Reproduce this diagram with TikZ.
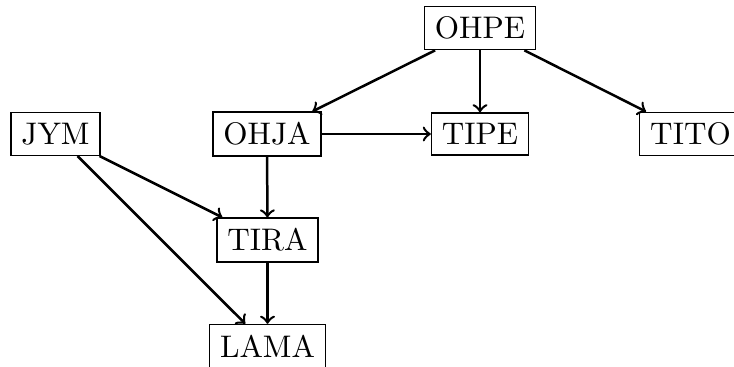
\documentclass[tikz,border=0pt]{standalone}
\begin{document}
\begin{tikzpicture}[x=0.3205pt,y=-0.3205pt,
  box/.style={draw},
  edge/.style={->,thick}]
\useasboundingbox (0,0) rectangle (734,367);
\node[box] (ohpe) at (480,28) {OHPE};
\node[box] (jym) at (55.5,134) {JYM};
\node[box] (ohja) at (267,134) {OHJA};
\node[box] (tipe) at (480,134) {TIPE};
\node[box] (tito) at (690.5,134) {TITO};
\node[box] (tira) at (267.5,240) {TIRA};
\node[box] (lama) at (267.5,346) {LAMA};
\draw[edge] (ohpe) -- (ohja);
\draw[edge] (ohpe) -- (tipe);
\draw[edge] (ohpe) -- (tito);
\draw[edge] (ohja) -- (tipe);
\draw[edge] (ohja) -- (tira);
\draw[edge] (jym) -- (tira);
\draw[edge] (jym) -- (lama);
\draw[edge] (tira) -- (lama);
\end{tikzpicture}
\end{document}
